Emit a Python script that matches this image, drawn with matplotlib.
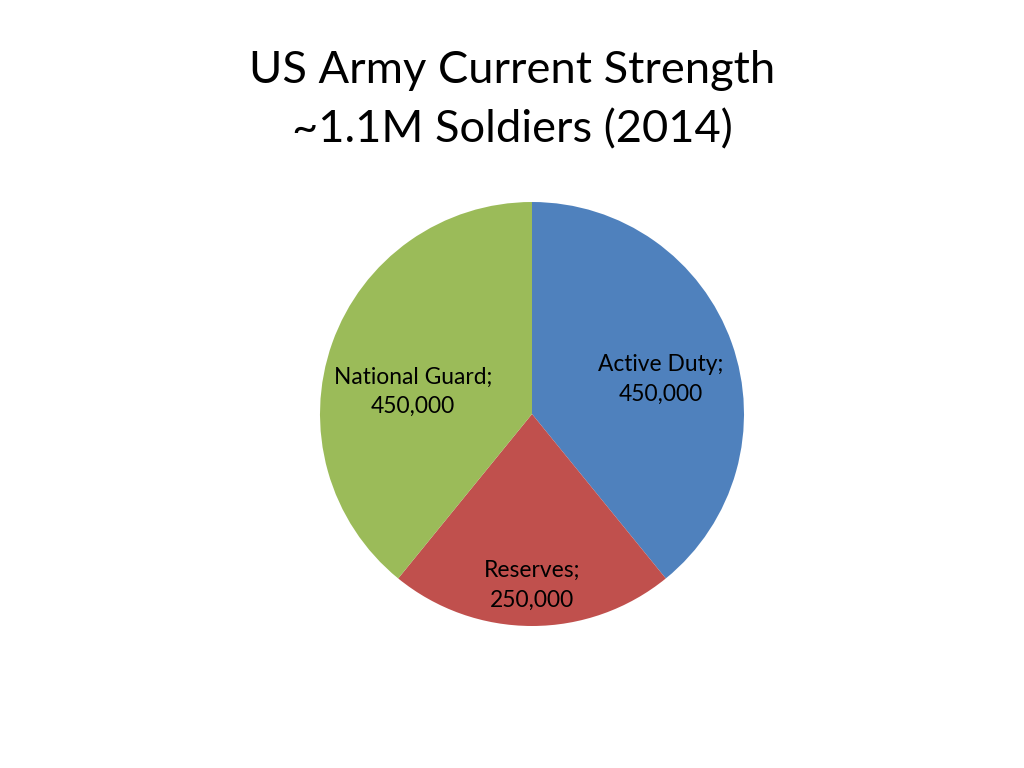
import numpy as np
import matplotlib
matplotlib.use("Agg")
import matplotlib.pyplot as plt

categories = ["Active Duty", "Reserves", "National Guard"]
values = [450000, 250000, 450000]
colors = ["#4F81BD", "#C0504D", "#9BBB59"]
title = "US Army Current Strength\n~1.1M Soldiers (2014)"

plt.rcParams['font.family'] = ['Lato', 'DejaVu Sans']

fig = plt.figure(figsize=(10.24, 7.68), dpi=100)
fig.patch.set_facecolor("white")

ax = fig.add_axes([320/1024, 142/768, 424/1024, 424/768])
wedges, _ = ax.pie(values, colors=colors, startangle=90, counterclock=False,
                   radius=1.0, wedgeprops=dict(linewidth=0))
ax.set_xlim(-1, 1)
ax.set_ylim(-1, 1)
ax.set_aspect('equal')
ax.axis('off')

label_dist = [0.63, 0.81, 0.57]
angle_shift = [-4.5, 0, 9]
for w, cat, val, d, s in zip(wedges, categories, values, label_dist, angle_shift):
    ang = np.deg2rad((w.theta1 + w.theta2) / 2 + s)
    ax.text(d*np.cos(ang), d*np.sin(ang), f"{cat};\n{val:,}",
            ha='center', va='center', fontsize=16.4, color='#000000',
            linespacing=1.52)

fig.text(0.5, 1 - 100/768, title, ha='center', va='center', fontsize=32.6,
         linespacing=1.56, color='#000000')

fig.savefig("out.png", dpi=100)
